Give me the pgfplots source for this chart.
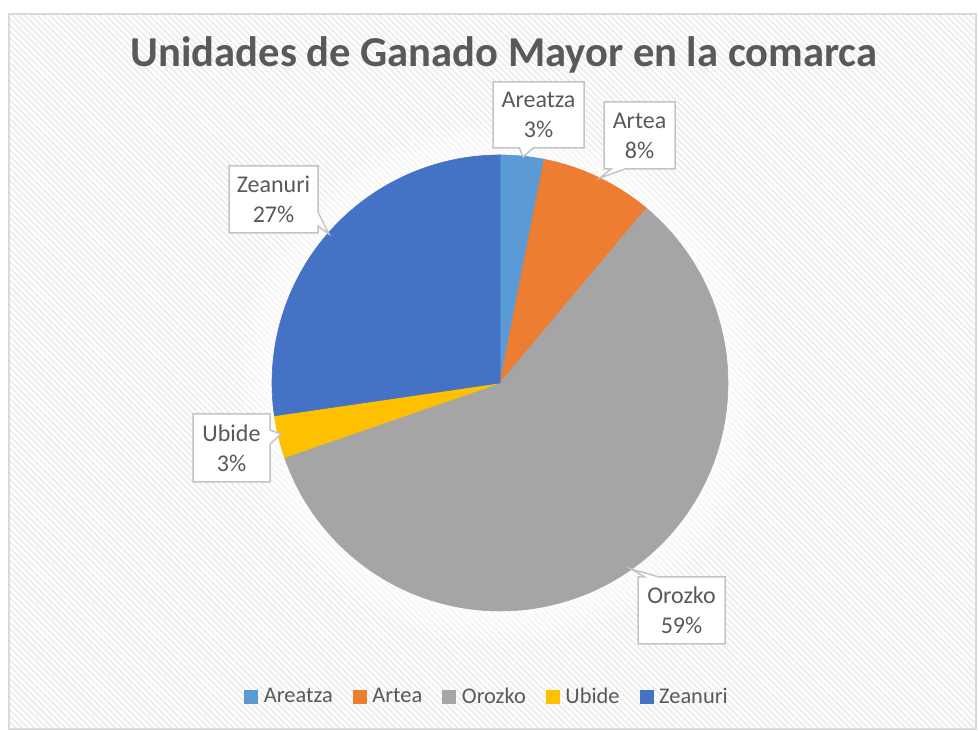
\documentclass[border=0pt]{standalone}
\usepackage{fontspec}
\setmainfont{Carlito}
\usepackage{pgfplots}
\usepackage{pgfplotstable}
\pgfplotsset{compat=1.18}
\usetikzlibrary{patterns.meta,shapes.callouts}

\definecolor{slice0}{HTML}{5B9BD5}
\definecolor{slice1}{HTML}{ED7D31}
\definecolor{slice2}{HTML}{A5A5A5}
\definecolor{slice3}{HTML}{FFC000}
\definecolor{slice4}{HTML}{4472C4}
\definecolor{txt}{HTML}{595959}
\definecolor{frame}{HTML}{D9D9D9}
\definecolor{boxline}{HTML}{C4C4C4}

\tikzset{callbox/.style={rectangle callout, draw=boxline, line width=0.75pt, fill=white,
    inner sep=0pt, align=center, text=txt, callout pointer width=7pt,
    font=\fontsize{12}{15}\selectfont}}

% share of each municipality (percent)
\pgfplotstableread{
name share
Areatza 3.1
Artea 8.0
Orozko 58.6
Ubide 3.0
Zeanuri 27.3
}\piedata

\begin{document}
\begin{tikzpicture}
\begin{axis}[
    width=489pt, height=365.5pt, scale only axis,
    xmin=0, xmax=978, ymin=-731, ymax=0,
    hide axis, clip=false,
    legend columns=5,
    legend style={at={(0.498,0.0465)}, anchor=center, draw=none, fill=none,
        font=\fontsize{11.2}{13}\selectfont, text=txt,
        /tikz/every even column/.append style={column sep=9pt},
        nodes={inner sep=1pt}},
    legend image code/.code={\fill[#1] (0pt,-3.25pt) rectangle (6.5pt,3.25pt);
        \path (0pt,0pt) (8.5pt,0pt);},
]
% page extent
\path (axis cs:0,0) (axis cs:978,-731);
% background
\fill[white] (axis cs:9,-14) rectangle (axis cs:976,-729);
\fill[pattern={Lines[angle=-45,distance=2.2pt,line width=0.9pt]}, pattern color=black!7]
    (axis cs:9,-14) rectangle (axis cs:976,-729);
\draw[frame, line width=0.75pt] (axis cs:9,-14) rectangle (axis cs:976,-729);
% soft glow round the pie
\pgfplotsinvokeforeach{1,...,9}{
  \fill[white, opacity=0.14] (axis cs:500,-383) circle[radius={(228+3.5*#1)*0.5pt}];
}
% slices, clockwise from the top
\def\cum{0}
\pgfplotsforeachungrouped \i in {0,...,4} {
  \pgfplotstablegetelem{\i}{share}\of\piedata
  \pgfmathsetmacro\a{\cum}
  \pgfmathsetmacro\b{\cum+3.6*\pgfplotsretval}
  \pgfplotstablegetelem{\i}{name}\of\piedata
  \let\name\pgfplotsretval
  \edef\temp{\noexpand\addplot[fill=slice\i, draw=slice\i, line width=0.3pt,
      domain=\a:\b, samples=120, variable=t]
      ({500+228*sin(t)},{-383+228*cos(t)}) -- (axis cs:500,-383) -- cycle;
    \noexpand\addlegendentry{\name}}
  \temp
  \edef\cum{\b}
}
% data labels
\node[callbox, minimum width=45.5pt, minimum height=33pt,
      callout absolute pointer={(axis cs:523,-157)}] at (axis cs:538.5,-115) {Areatza\\3\%};
\node[callbox, minimum width=35.5pt, minimum height=33.5pt,
      callout absolute pointer={(axis cs:600,-178)}] at (axis cs:639.5,-135.5) {Artea\\8\%};
\node[callbox, minimum width=44.5pt, minimum height=33.5pt,
      callout absolute pointer={(axis cs:329,-234)}] at (axis cs:273.5,-199.5) {Zeanuri\\27\%};
\node[callbox, minimum width=38.5pt, minimum height=34pt,
      callout absolute pointer={(axis cs:281,-434)}] at (axis cs:231.5,-448) {Ubide\\3\%};
\node[callbox, minimum width=43.5pt, minimum height=33.5pt,
      callout absolute pointer={(axis cs:631,-569)}] at (axis cs:681.5,-610.5) {Orozko\\59\%};
% title
\node[text=txt, font=\fontsize{21.3}{25}\selectfont\bfseries] at (axis cs:504,-55)
    {Unidades de Ganado Mayor en la comarca};
\end{axis}
\end{tikzpicture}
\end{document}
